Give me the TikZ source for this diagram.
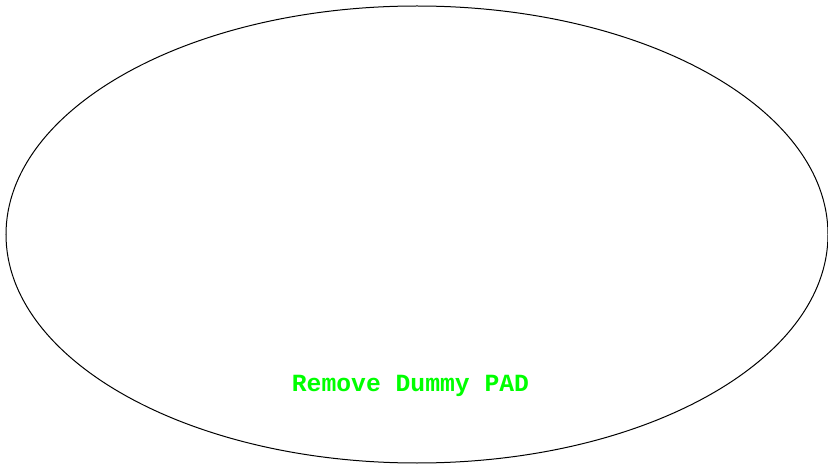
\documentclass[tikz,border=0pt]{standalone}
\usepackage{fontspec}
\setmonofont{Liberation Mono}
\usetikzlibrary{shapes.geometric, positioning}
\definecolor{padgreen}{HTML}{00FF00}

\begin{document}
\begin{tikzpicture}[x=1pt, y=1pt,
  padshape/.style={draw, ellipse, line width=1pt, inner sep=0pt,
    minimum width=822pt, minimum height=457pt},
  padlabel/.style={text=padgreen, font=\ttfamily\bfseries\fontsize{24.7}{28}\selectfont}]
  \useasboundingbox (0,0) rectangle (828,-465);
  \node[padshape] (pad) at (417,-234.5) {};
  \node[padlabel, anchor=base] (remove) at (410.5,-391) {Remove Dummy PAD};
\end{tikzpicture}
\end{document}
